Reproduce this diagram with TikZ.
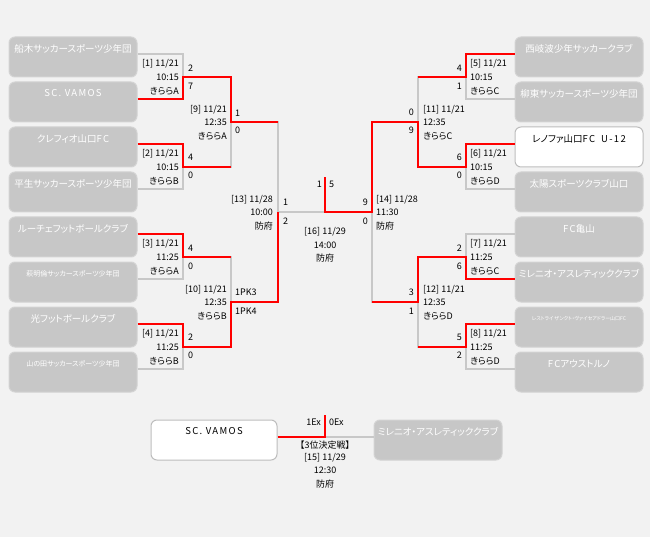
\documentclass[tikz,border=0pt]{standalone}
\usepackage{fontspec}
\setmainfont{Noto Sans CJK JP}[RawFeature={+palt}]
\newfontfamily\wideLatin{Noto Sans CJK JP}[LetterSpace=14]
\definecolor{bggray}{HTML}{F2F2F2}
\definecolor{boxgray}{HTML}{C7C7C7}
\definecolor{boxedge}{HTML}{D3D3D3}
\definecolor{linegray}{HTML}{C8C8C8}
\definecolor{wedge}{HTML}{BDBDBD}
\definecolor{redline}{HTML}{FF0000}
\tikzset{
  gbox/.style={rounded corners=6pt, minimum width=128pt, minimum height=40pt, fill=boxgray, draw=boxedge, line width=1pt, inner sep=0pt},
  wbox/.style={gbox, fill=white, draw=wedge},
  wname/.style={text=white, inner sep=0pt, font=\fontsize{9.5pt}{9.5pt}\selectfont},
  bname/.style={text=black, inner sep=0pt, font=\fontsize{9.5pt}{9.5pt}\selectfont},
  lab/.style={inner sep=0pt, text height=7pt, text depth=2pt, font=\fontsize{9pt}{9pt}\selectfont},
  gline/.style={draw=linegray, line width=2pt},
  rline/.style={draw=redline, line width=2.4pt},
}
\begin{document}
\begin{tikzpicture}[x=1pt,y=-1pt]
\fill[bggray] (0,0) rectangle (650,537);
\useasboundingbox (0,0) rectangle (650,537);
% ---- team boxes ----
\node[gbox] (L1) at (73,57) {};
\node[gbox] (L2) at (73,102) {};
\node[gbox] (L3) at (73,147) {};
\node[gbox] (L4) at (73,192) {};
\node[gbox] (L5) at (73,237) {};
\node[gbox] (L6) at (73,282) {};
\node[gbox] (L7) at (73,327) {};
\node[gbox] (L8) at (73,372) {};
\node[gbox] (R1) at (579,57) {};
\node[gbox] (R2) at (579,102) {};
\node[wbox] (R3) at (579,147) {};
\node[gbox] (R4) at (579,192) {};
\node[gbox] (R5) at (579,237) {};
\node[gbox] (R6) at (579,282) {};
\node[gbox] (R7) at (579,327) {};
\node[gbox] (R8) at (579,372) {};
\node[wbox, minimum width=126pt] (TL) at (214,440) {};
\node[gbox] (TR) at (438,440) {};
% ---- names ----
\node[wname] (nL1) at ([yshift=-12pt]L1.north) {船木サッカースポーツ少年団};
\node[wname] (nL2) at ([yshift=-12pt]L2.north) {\wideLatin SC. VAMOS};
\node[wname] (nL3) at ([yshift=-12pt]L3.north) {クレフィオ山口{\wideLatin FC}};
\node[wname] (nL4) at ([yshift=-12pt]L4.north) {平生サッカースポーツ少年団};
\node[wname] (nL5) at ([yshift=-12pt]L5.north) {ルーチェフットボールクラブ};
\node[wname, font=\fontsize{7pt}{7pt}\selectfont] (nL6) at ([yshift=-12pt]L6.north) {萩明倫サッカースポーツ少年団};
\node[wname] (nL7) at ([yshift=-12pt]L7.north) {光フットボールクラブ};
\node[wname, font=\fontsize{7pt}{7pt}\selectfont] (nL8) at ([yshift=-12pt]L8.north) {山の田サッカースポーツ少年団};
\node[wname] (nR1) at ([yshift=-12pt]R1.north) {西岐波少年サッカークラブ};
\node[wname] (nR2) at ([yshift=-12pt]R2.north) {柳東サッカースポーツ少年団};
\node[bname] (nR3) at ([yshift=-12pt]R3.north) {レノファ山口{\wideLatin FC}\hspace{6pt}{\wideLatin U-12}};
\node[wname] (nR4) at ([yshift=-12pt]R4.north) {太陽スポーツクラブ山口};
\node[wname] (nR5) at ([yshift=-12pt]R5.north) {{\wideLatin FC}亀山};
\node[wname] (nR6) at ([yshift=-12pt]R6.north) {ミレニオ・アスレティッククラブ};
\node[wname, font=\fontsize{5pt}{5pt}\selectfont] (nR7) at ([yshift=-12pt]R7.north) {レストライ ザンクト・ヴァイセアドラー山口FC};
\node[wname] (nR8) at ([yshift=-12pt]R8.north) {{\wideLatin FC}アウストルノ};
\node[bname] (nTL) at ([yshift=-12pt]TL.north) {\wideLatin SC. VAMOS};
\node[wname] (nTR) at ([yshift=-12pt]TR.north) {ミレニオ・アスレティッククラブ};
% ---- connection points ----
\foreach \b in {L1,L2,L3,L4,L5,L6,L7,L8,TL} {\coordinate (\b c) at ([yshift=3pt]\b.east);}
\foreach \b in {R1,R2,R3,R4,R5,R6,R7,R8,TR} {\coordinate (\b c) at ([yshift=3pt]\b.west);}
\coordinate (J1) at (183,77);
\coordinate (J2) at (183,167);
\coordinate (J3) at (183,257);
\coordinate (J4) at (183,347);
\coordinate (J9) at (231,122);
\coordinate (J10) at (231,302);
\coordinate (J13) at (278,212);
\coordinate (J5) at (466,77);
\coordinate (J6) at (466,167);
\coordinate (J7) at (466,257);
\coordinate (J8) at (466,347);
\coordinate (J11) at (418,122);
\coordinate (J12) at (418,302);
\coordinate (J14) at (372,212);
\coordinate (F) at (325,212);
\coordinate (Ftop) at (325,177);
\coordinate (T) at (325,437);
\coordinate (Ttop) at (325,415);
% ---- gray base lines ----
\draw[gline] (L1c) -| (J1); \draw[gline] (L2c) -| (J1);
\draw[gline] (L3c) -| (J2); \draw[gline] (L4c) -| (J2);
\draw[gline] (L5c) -| (J3); \draw[gline] (L6c) -| (J3);
\draw[gline] (L7c) -| (J4); \draw[gline] (L8c) -| (J4);
\draw[gline] (J1) -| (J9); \draw[gline] (J2) -| (J9);
\draw[gline] (J3) -| (J10); \draw[gline] (J4) -| (J10);
\draw[gline] (J9) -| (J13); \draw[gline] (J10) -| (J13);
\draw[gline] (R1c) -| (J5); \draw[gline] (R2c) -| (J5);
\draw[gline] (R3c) -| (J6); \draw[gline] (R4c) -| (J6);
\draw[gline] (R5c) -| (J7); \draw[gline] (R6c) -| (J7);
\draw[gline] (R7c) -| (J8); \draw[gline] (R8c) -| (J8);
\draw[gline] (J5) -| (J11); \draw[gline] (J6) -| (J11);
\draw[gline] (J7) -| (J12); \draw[gline] (J8) -| (J12);
\draw[gline] (J11) -| (J14); \draw[gline] (J12) -| (J14);
\draw[gline] (J13) -- (J14);
\draw[gline] (TRc) -- (T);
% ---- red winner lines ----
\draw[rline] (L2c) -| (J1) -| (J9) -- (J9 -| J13);
\draw[rline] (L3c) -| (J2) -- (J2 -| J9);
\draw[rline] (L5c) -| (J3) -- (J3 -| J10);
\draw[rline] (L7c) -| (J4) -| (J10) -| (J13);
\draw[rline] (R1c) -| (J5) -- (J5 -| J11);
\draw[rline] (R3c) -| (J6) -| (J11) -| (J14) -| (Ftop);
\draw[rline] (R6c) -| (J7) -| (J12) -- (J12 -| J14);
\draw[rline] (R7c) -| (J8) -- (J8 -| J12);
\draw[rline] (TLc) -| (Ttop);
% ---- left match labels ----
\node[lab, anchor=east] (m1a) at (179,64) {[1] 11/21};
\node[lab, anchor=east] (m1b) at (179,78) {10:15};
\node[lab, anchor=east] (m1c) at (179,92) {きららA};
\node[lab, anchor=east] (m2a) at (179,154) {[2] 11/21};
\node[lab, anchor=east] (m2b) at (179,168) {10:15};
\node[lab, anchor=east] (m2c) at (179,182) {きららB};
\node[lab, anchor=east] (m3a) at (179,244) {[3] 11/21};
\node[lab, anchor=east] (m3b) at (179,258) {11:25};
\node[lab, anchor=east] (m3c) at (179,272) {きららA};
\node[lab, anchor=east] (m4a) at (179,334) {[4] 11/21};
\node[lab, anchor=east] (m4b) at (179,348) {11:25};
\node[lab, anchor=east] (m4c) at (179,362) {きららB};
\node[lab, anchor=east] (m9a) at (227,110) {[9] 11/21};
\node[lab, anchor=east] (m9b) at (227,123) {12:35};
\node[lab, anchor=east] (m9c) at (227,137) {きららA};
\node[lab, anchor=east] (m10a) at (227,290) {[10] 11/21};
\node[lab, anchor=east] (m10b) at (227,303) {12:35};
\node[lab, anchor=east] (m10c) at (227,317) {きららB};
\node[lab, anchor=east] (m13a) at (273,200) {[13] 11/28};
\node[lab, anchor=east] (m13b) at (273,213) {10:00};
\node[lab, anchor=east] (m13c) at (273,227) {防府};
% left scores
\node[lab, anchor=west] (s1a) at (188,69) {2};
\node[lab, anchor=west] (s1b) at (188,87) {7};
\node[lab, anchor=west] (s2a) at (188,158) {4};
\node[lab, anchor=west] (s2b) at (188,176) {0};
\node[lab, anchor=west] (s3a) at (188,249) {4};
\node[lab, anchor=west] (s3b) at (188,267) {0};
\node[lab, anchor=west] (s4a) at (188,338) {2};
\node[lab, anchor=west] (s4b) at (188,356) {0};
\node[lab, anchor=west] (s9a) at (235,114) {1};
\node[lab, anchor=west] (s9b) at (235,131) {0};
\node[lab, anchor=west] (s10a) at (235,293) {1PK3};
\node[lab, anchor=west] (s10b) at (235,312) {1PK4};
\node[lab, anchor=west] (s13a) at (283,203) {1};
\node[lab, anchor=west] (s13b) at (283,222) {2};
% ---- right match labels ----
\node[lab, anchor=west] (m5a) at (470,64) {[5] 11/21};
\node[lab, anchor=west] (m5b) at (470,78) {10:15};
\node[lab, anchor=west] (m5c) at (470,92) {きららC};
\node[lab, anchor=west] (m6a) at (470,154) {[6] 11/21};
\node[lab, anchor=west] (m6b) at (470,168) {10:15};
\node[lab, anchor=west] (m6c) at (470,182) {きららD};
\node[lab, anchor=west] (m7a) at (470,244) {[7] 11/21};
\node[lab, anchor=west] (m7b) at (470,258) {11:25};
\node[lab, anchor=west] (m7c) at (470,272) {きららC};
\node[lab, anchor=west] (m8a) at (470,334) {[8] 11/21};
\node[lab, anchor=west] (m8b) at (470,348) {11:25};
\node[lab, anchor=west] (m8c) at (470,362) {きららD};
\node[lab, anchor=west] (m11a) at (423,110) {[11] 11/21};
\node[lab, anchor=west] (m11b) at (423,123) {12:35};
\node[lab, anchor=west] (m11c) at (423,137) {きららC};
\node[lab, anchor=west] (m12a) at (423,290) {[12] 11/21};
\node[lab, anchor=west] (m12b) at (423,303) {12:35};
\node[lab, anchor=west] (m12c) at (423,317) {きららD};
\node[lab, anchor=west] (m14a) at (376,200) {[14] 11/28};
\node[lab, anchor=west] (m14b) at (376,213) {11:30};
\node[lab, anchor=west] (m14c) at (376,227) {防府};
% right scores
\node[lab, anchor=east] (s5a) at (462,69) {4};
\node[lab, anchor=east] (s5b) at (462,87) {1};
\node[lab, anchor=east] (s6a) at (462,158) {6};
\node[lab, anchor=east] (s6b) at (462,176) {0};
\node[lab, anchor=east] (s7a) at (462,249) {2};
\node[lab, anchor=east] (s7b) at (462,267) {6};
\node[lab, anchor=east] (s8a) at (462,338) {5};
\node[lab, anchor=east] (s8b) at (462,356) {2};
\node[lab, anchor=east] (s11a) at (414,113) {0};
\node[lab, anchor=east] (s11b) at (414,131) {9};
\node[lab, anchor=east] (s12a) at (414,293) {3};
\node[lab, anchor=east] (s12b) at (414,312) {1};
\node[lab, anchor=east] (s14a) at (368,203) {9};
\node[lab, anchor=east] (s14b) at (368,222) {0};
% ---- final ----
\node[lab, anchor=east] (sfa) at (322,185) {1};
\node[lab, anchor=west] (sfb) at (329,185) {5};
\node[lab] (mfa) at (325,232) {[16] 11/29};
\node[lab] (mfb) at (325,246) {14:00};
\node[lab] (mfc) at (325,259) {防府};
% ---- third place ----
\node[lab, anchor=east] (sta) at (321,423) {1Ex};
\node[lab, anchor=west] (stb) at (329,423) {0Ex};
\node[lab] (mta) at (325,446) {【3位決定戦】};
\node[lab] (mtb) at (325,458) {[15] 11/29};
\node[lab] (mtc) at (325,471) {12:30};
\node[lab] (mtd) at (325,485) {防府};
\end{tikzpicture}
\end{document}
